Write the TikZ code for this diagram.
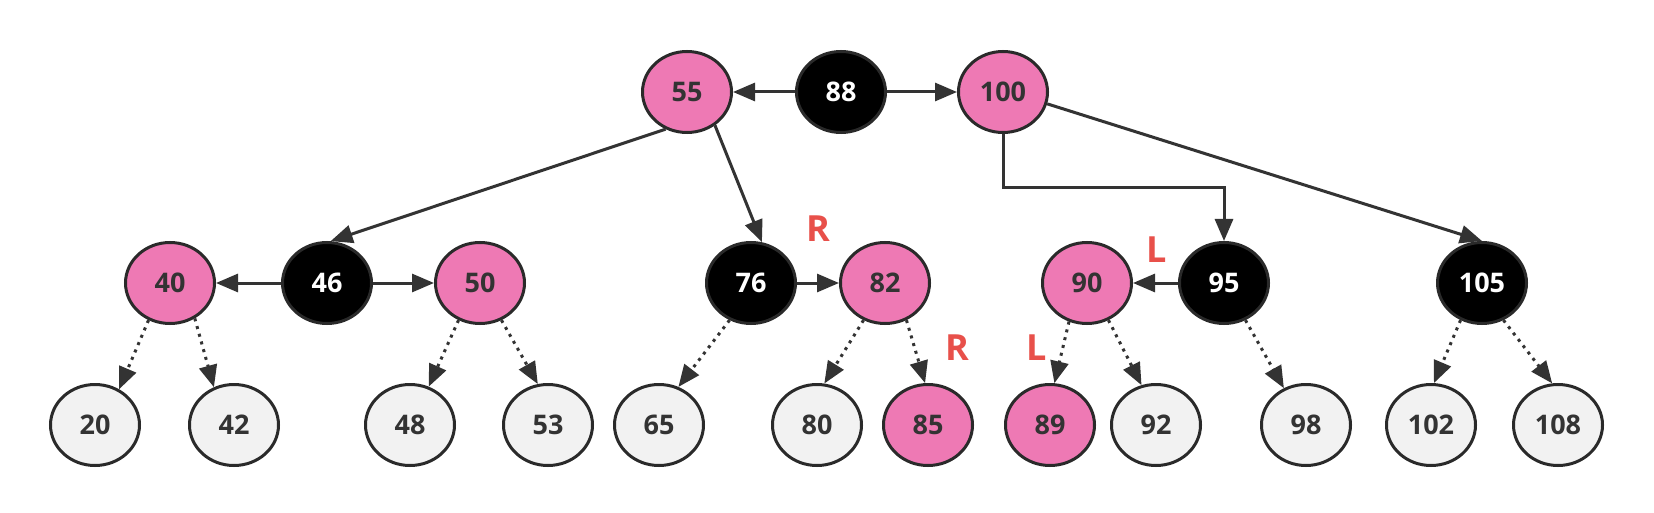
\documentclass[tikz,border=0pt]{standalone}
\usepackage{fontspec}
\setmainfont{Open Sans}
\usetikzlibrary{arrows.meta,calc,shapes.geometric}
\definecolor{pinkc}{HTML}{EE79B4}
\definecolor{ltc}{HTML}{F2F2F2}
\definecolor{edgec}{HTML}{2A2A2A}
\definecolor{txtc}{HTML}{333333}
\definecolor{linec}{HTML}{333333}
\definecolor{redc}{HTML}{E8504A}
\begin{document}
\begin{tikzpicture}[x=1pt,y=-1pt,
  nd/.style={ellipse, draw=edgec, line width=3pt, minimum width=89pt, minimum height=81pt, inner sep=0pt, font=\fontsize{27}{27}\selectfont\bfseries},
  pk/.style={nd, fill=pinkc, text=txtc},
  bk/.style={nd, fill=black, text=white},
  lt/.style={nd, fill=ltc, text=txtc},
  con/.style={draw=linec, line width=3pt, -{Triangle[length=22pt,width=18pt]}},
  dcon/.style={con, dash pattern=on 3pt off 5pt},
  lab/.style={text=redc, font=\fontsize{36}{36}\selectfont\bfseries, inner sep=0pt}]
\fill[white] (0,0) rectangle (1654,513);
\useasboundingbox (0,0) rectangle (1654,513);
% top row
\node[pk] (n55) at (687,92) {55};
\node[bk] (n88) at (841,92) {88};
\node[pk] (n100) at (1003,92) {100};
% middle row
\node[pk] (n40) at (170,283) {40};
\node[bk] (n46) at (327,283) {46};
\node[pk] (n50) at (480,283) {50};
\node[bk] (n76) at (751,283) {76};
\node[pk] (n82) at (885,283) {82};
\node[pk] (n90) at (1087,283) {90};
\node[bk] (n95) at (1224,283) {95};
\node[bk] (n105) at (1482,283) {105};
% bottom row
\node[lt] (n20) at (95,425) {20};
\node[lt] (n42) at (234,425) {42};
\node[lt] (n48) at (410,425) {48};
\node[lt] (n53) at (548,425) {53};
\node[lt] (n65) at (659,425) {65};
\node[lt] (n80) at (817,425) {80};
\node[pk] (n85) at (928,425) {85};
\node[pk] (n89) at (1050,425) {89};
\node[lt] (n92) at (1156,425) {92};
\node[lt] (n98) at (1306,425) {98};
\node[lt] (n102) at (1431,425) {102};
\node[lt] (n108) at (1558,425) {108};
% labels
\node[lab] (r1) at (818,229) {R};
\node[lab] (l1) at (1157,250) {L};
\node[lab] (r2) at (957,348) {R};
\node[lab] (l2) at (1037,348) {L};
% solid connectors
\draw[con] (n88) -- (n55);
\draw[con] (n88) -- (n100);
\draw[con] (n55.240) -- (n46.85);
\draw[con] (n55.310) -- (n76.75);
\coordinate (m1) at ($(n100.south)!0.5!(n95.north)$);
\draw[con] (n100.south) |- (m1) -| (n95.north);
\draw[con] (n100.345) -- (n105.north);
\draw[con] (n46) -- (n40);
\draw[con] (n46) -- (n50);
\draw[con] (n76) -- (n82);
\draw[con] (n95) -- (n90);
% dotted connectors
\draw[dcon] (n40.240) -- (n20.56);
\draw[dcon] (n40.305) -- (n42.118);
\draw[dcon] (n50.240) -- (n48.64);
\draw[dcon] (n50.300) -- (n53.104);
\draw[dcon] (n76.240) -- (n65.63);
\draw[dcon] (n82.240) -- (n80.80);
\draw[dcon] (n82.300) -- (n85.94);
\draw[dcon] (n90.245) -- (n89.84);
\draw[dcon] (n90.300) -- (n92.110);
\draw[dcon] (n95.300) -- (n98.121);
\draw[dcon] (n105.240) -- (n102.86);
\draw[dcon] (n105.300) -- (n108.98);
\end{tikzpicture}
\end{document}
